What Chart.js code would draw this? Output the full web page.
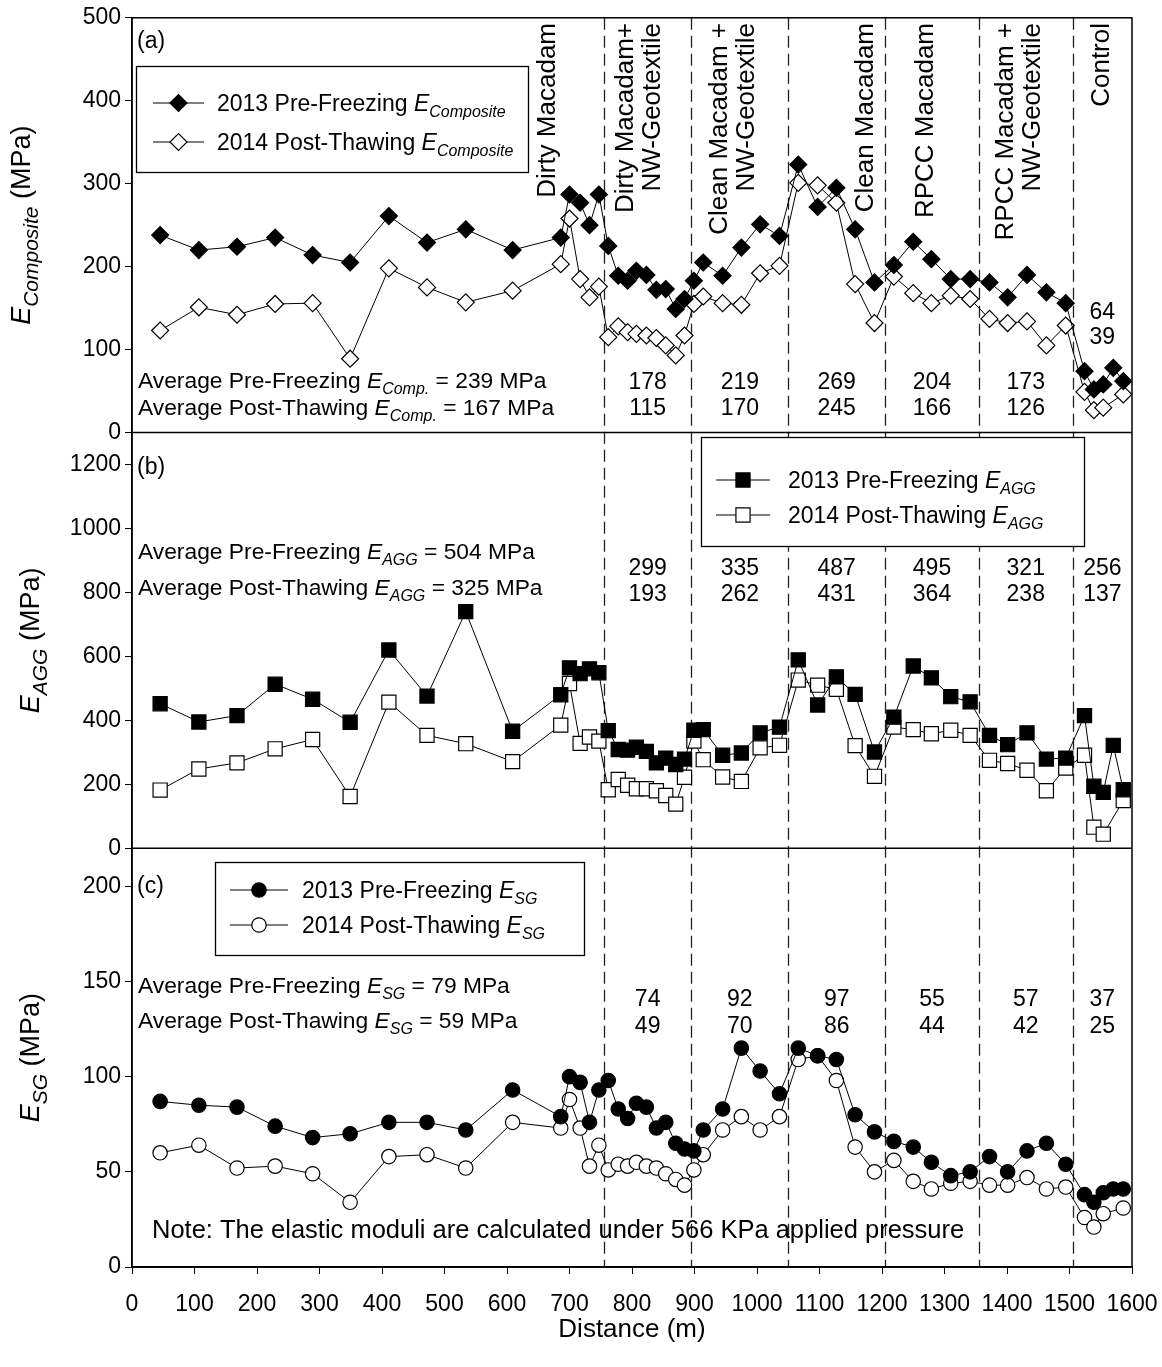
<!DOCTYPE html>
<html>
<head>
<meta charset="utf-8">
<script src="https://cdn.jsdelivr.net/npm/chart.js@4.4.0/dist/chart.umd.min.js"></script>
<style>
  html, body { margin: 0; padding: 0; background: #fff; }
</style>
</head>
<body>
<canvas id="chart" width="1162" height="1367"></canvas>
<script>
const FONT = '"Liberation Sans", Arial, Helvetica, sans-serif';

// station distances (m)
const distance = [45, 107, 168, 229, 289, 349, 411, 472, 534, 609,
  686, 700, 717, 732, 747, 762, 778, 793, 807, 823,
  839, 854, 870, 884, 899, 914, 945, 975, 1005, 1036,
  1066, 1097, 1127, 1157, 1188, 1219, 1250, 1279, 1310, 1341,
  1372, 1401, 1432, 1463, 1494, 1524, 1539, 1554, 1570, 1586];

// (a) composite modulus
const compPre = [238, 220, 224, 235, 214, 205, 261, 229, 245, 220,
  235, 287, 277, 250, 287, 225, 189, 183, 195, 190,
  172, 173, 149, 161, 183, 205, 189, 223, 251, 237,
  323, 272, 295, 245, 181, 202, 230, 209, 185, 185,
  181, 163, 190, 169, 156, 74, 52, 58, 78, 62];
const compPost = [123, 151, 142, 155, 156, 89, 198, 175, 157, 171,
  203, 258, 185, 163, 176, 115, 128, 121, 119, 117,
  114, 105, 93, 117, 155, 164, 156, 154, 192, 201,
  301, 298, 277, 179, 132, 188, 168, 156, 165, 161,
  137, 132, 134, 105, 129, 49, 27, 30, null, 46];

// (b) aggregate modulus
const aggPre = [452, 395, 415, 513, 466, 394, 620, 476, 740, 366,
  480, 564, 546, 561, 549, 368, 309, 307, 316, 303,
  267, 282, 262, 279, 369, 371, 291, 298, 361, 379,
  589, 448, 536, 481, 301, 410, 570, 533, 474, 458,
  353, 324, 361, 279, 282, 415, 194, 175, 322, 183];
const aggPost = [182, 248, 267, 311, 340, 162, 457, 353, 327, 271,
  385, 515, 328, 348, 335, 183, 215, 197, 186, 186,
  180, 165, 138, 222, 335, 277, 223, 209, 314, 322,
  526, 510, 497, 321, 225, 379, 371, 358, 369, 353,
  275, 265, 244, 180, 251, 291, 66, 44, null, 149];

// (c) subgrade modulus
const sgPre = [87, 85, 84, 74, 68, 70, 76, 76, 72, 93,
  79, 100, 97, 76, 93, 98, 83, 78, 86, 84,
  73, 76, 65, 62, 61, 72, 83, 115, 103, 91,
  115, 111, 109, 80, 71, 66, 63, 55, 48, 50,
  58, 50, 61, 65, 54, 38, 34, 39, 41, 41];
const sgPost = [60, 64, 52, 53, 49, 34, 58, 59, 52, 76,
  73, 88, 73, 53, 64, 51, 54, 53, 55, 53,
  52, 49, 46, 43, 51, 59, 72, 79, 72, 79,
  109, 111, 98, 63, 50, 56, 45, 41, 44, 45,
  43, 43, 47, 41, 42, 26, 21, 28, null, 31];

// axis ticks
const distanceTicks = [0, 100, 200, 300, 400, 500, 600, 700, 800, 900, 1000, 1100, 1200, 1300, 1400, 1500, 1600];
const compTicks = [0, 100, 200, 300, 400, 500];
const aggTicks = [0, 200, 400, 600, 800, 1000, 1200];
const sgTicks = [0, 50, 100, 150, 200];

// test section boundaries (m) and section averages
const sectionBounds = [755, 895, 1050, 1205, 1355, 1505];
const compSecPre = [178, 219, 269, 204, 173, 64];
const compSecPost = [115, 170, 245, 166, 126, 39];
const aggSecPre = [299, 335, 487, 495, 321, 256];
const aggSecPost = [193, 262, 431, 364, 238, 137];
const sgSecPre = [74, 92, 97, 55, 57, 37];
const sgSecPost = [49, 70, 86, 44, 42, 25];

const xy = (vals) => vals.map((v, i) => ({ x: distance[i], y: v }));

function series(label, vals, axis, style, radius, fill) {
  return {
    label: label,
    data: xy(vals),
    yAxisID: axis,
    borderColor: '#000',
    borderWidth: 1,
    pointStyle: style,
    pointRadius: radius,
    pointBackgroundColor: fill,
    pointBorderColor: '#000',
    pointBorderWidth: 1.2,
    spanGaps: true,
    tension: 0
  };
}

function yScale(min, max, tickArr, weight) {
  return {
    type: 'linear',
    position: 'left',
    stack: 'panels',
    stackWeight: weight,
    min: min,
    max: max,
    afterBuildTicks: (ax) => { ax.ticks = tickArr.map(v => ({ value: v })); },
    afterFit: (ax) => { ax.width = 132; },
    ticks: { color: '#000', font: { family: FONT, size: 23 }, padding: 4, callback: (v) => String(v) },
    grid: { drawOnChartArea: false, drawTicks: true, tickLength: 7, color: '#000', lineWidth: 1 },
    border: { display: true, color: '#000', width: 1.5 }
  };
}

// text helpers: parts are [text, kind] with kind 0 normal, 1 italic, 2 italic subscript
function partFont(kind, size, subRatio) {
  if (kind === 2) return 'italic ' + Math.round(size * subRatio) + 'px ' + FONT;
  if (kind === 1) return 'italic ' + size + 'px ' + FONT;
  return size + 'px ' + FONT;
}

function drawRich(ctx, parts, x, y, align, size, subRatio) {
  const sr = subRatio || 0.68;
  let w = 0;
  parts.forEach(p => { ctx.font = partFont(p[1], size, sr); w += ctx.measureText(p[0]).width; });
  let cx = align === 'center' ? x - w / 2 : (align === 'right' ? x - w : x);
  ctx.textAlign = 'left';
  ctx.textBaseline = 'alphabetic';
  ctx.fillStyle = '#000';
  parts.forEach(p => {
    ctx.font = partFont(p[1], size, sr);
    ctx.fillText(p[0], cx, y + (p[1] === 2 ? size * 0.28 : 0));
    cx += ctx.measureText(p[0]).width;
  });
}

function drawMarker(ctx, style, x, y, r, fill) {
  ctx.beginPath();
  if (style === 'rectRot') {
    ctx.moveTo(x - r, y); ctx.lineTo(x, y - r); ctx.lineTo(x + r, y); ctx.lineTo(x, y + r); ctx.closePath();
  } else if (style === 'rect') {
    const s = r * Math.SQRT1_2;
    ctx.rect(x - s, y - s, 2 * s, 2 * s);
  } else {
    ctx.arc(x, y, r, 0, Math.PI * 2);
  }
  ctx.fillStyle = fill;
  ctx.fill();
  ctx.lineWidth = 1.2;
  ctx.strokeStyle = '#000';
  ctx.stroke();
}

function drawLegend(ctx, box, entries) {
  ctx.save();
  ctx.fillStyle = '#fff';
  ctx.fillRect(box.x, box.y, box.w, box.h);
  ctx.strokeStyle = '#000';
  ctx.lineWidth = 1.3;
  ctx.strokeRect(box.x + 0.5, box.y + 0.5, box.w, box.h);
  entries.forEach((e, i) => {
    const yy = box.rows[i];
    ctx.beginPath();
    ctx.lineWidth = 1;
    ctx.moveTo(box.line[0], yy);
    ctx.lineTo(box.line[1], yy);
    ctx.stroke();
    drawMarker(ctx, e.style, (box.line[0] + box.line[1]) / 2, yy, e.r, e.fill);
    drawRich(ctx, e.parts, box.text, yy + 8, 'left', 23);
  });
  ctx.restore();
}

const verticalLabels = [
  { lines: ['Dirty Macadam'], x: [548] },
  { lines: ['Dirty Macadam+', 'NW-Geotextile'], x: [626, 653] },
  { lines: ['Clean Macadam +', 'NW-Geotextile'], x: [720, 747] },
  { lines: ['Clean Macadam'], x: [866] },
  { lines: ['RPCC Macadam'], x: [926] },
  { lines: ['RPCC Macadam +', 'NW-Geotextile'], x: [1006, 1033] },
  { lines: ['Control'], x: [1102] }
];

function sectionCenters(xs) {
  return sectionBounds.map((b, i) => {
    const e = i + 1 < sectionBounds.length ? sectionBounds[i + 1] : 1600;
    return xs.getPixelForValue((b + e) / 2);
  });
}

const decor = {
  id: 'decor',
  beforeDatasetsDraw(chart) {
    const { ctx, chartArea, scales } = chart;
    ctx.save();
    ctx.strokeStyle = '#222';
    ctx.lineWidth = 1.3;
    ctx.setLineDash([12, 6]);
    sectionBounds.forEach(m => {
      const x = Math.round(scales.x.getPixelForValue(m)) + 0.5;
      ctx.beginPath();
      ctx.moveTo(x, chartArea.top);
      ctx.lineTo(x, chartArea.bottom);
      ctx.stroke();
    });
    ctx.restore();
  },
  afterDraw(chart) {
    const { ctx, chartArea, scales } = chart;
    ctx.save();

    // frame and panel separators
    ctx.strokeStyle = '#000';
    ctx.lineWidth = 1.5;
    ctx.strokeRect(chartArea.left, chartArea.top, chartArea.right - chartArea.left, chartArea.bottom - chartArea.top);
    ['yA', 'yB', 'yC'].forEach(id => {
      ctx.beginPath();
      ctx.moveTo(chartArea.left, scales[id].bottom);
      ctx.lineTo(chartArea.right, scales[id].bottom);
      ctx.stroke();
    });

    // panel letters
    ctx.fillStyle = '#000';
    ctx.font = '23px ' + FONT;
    ctx.textAlign = 'left';
    ctx.textBaseline = 'alphabetic';
    ctx.fillText('(a)', 137, 48);
    ctx.fillText('(b)', 137, 474);
    ctx.fillText('(c)', 137, 893);

    // vertical section names
    ctx.font = '26px ' + FONT;
    verticalLabels.forEach(l => {
      l.lines.forEach((t, i) => {
        ctx.save();
        ctx.translate(l.x[i], 23);
        ctx.rotate(-Math.PI / 2);
        ctx.textAlign = 'right';
        ctx.textBaseline = 'middle';
        ctx.fillText(t, 0, 0);
        ctx.restore();
      });
    });

    // averages
    const fs = 22.8;
    drawRich(ctx, [['Average Pre-Freezing ', 0], ['E', 1], ['Comp.', 2], [' = 239 MPa', 0]], 138, 388, 'left', fs);
    drawRich(ctx, [['Average Post-Thawing ', 0], ['E', 1], ['Comp.', 2], [' = 167 MPa', 0]], 138, 415, 'left', fs);
    drawRich(ctx, [['Average Pre-Freezing ', 0], ['E', 1], ['AGG', 2], [' = 504 MPa', 0]], 138, 559, 'left', fs);
    drawRich(ctx, [['Average Post-Thawing ', 0], ['E', 1], ['AGG', 2], [' = 325 MPa', 0]], 138, 595, 'left', fs);
    drawRich(ctx, [['Average Pre-Freezing ', 0], ['E', 1], ['SG', 2], [' = 79 MPa', 0]], 138, 993, 'left', fs);
    drawRich(ctx, [['Average Post-Thawing ', 0], ['E', 1], ['SG', 2], [' = 59 MPa', 0]], 138, 1028, 'left', fs);

    // section averages
    const cx = sectionCenters(scales.x);
    ctx.font = '23px ' + FONT;
    ctx.textAlign = 'center';
    cx.forEach((x, i) => {
      const last = i === cx.length - 1;
      ctx.fillText(String(compSecPre[i]), x, last ? 319 : 389);
      ctx.fillText(String(compSecPost[i]), x, last ? 344 : 415);
      ctx.fillText(String(aggSecPre[i]), x, 575);
      ctx.fillText(String(aggSecPost[i]), x, 601);
      ctx.fillText(String(sgSecPre[i]), x, 1006);
      ctx.fillText(String(sgSecPost[i]), x, 1033);
    });

    // note
    ctx.font = '25.5px ' + FONT;
    ctx.textAlign = 'left';
    ctx.fillText('Note: The elastic moduli are calculated under 566 KPa applied pressure', 152, 1238);

    // legends
    drawLegend(ctx, { x: 136, y: 66, w: 392, h: 106, rows: [103, 142], line: [153, 204], text: 217 }, [
      { style: 'rectRot', r: 8.5, fill: '#000', parts: [['2013 Pre-Freezing ', 0], ['E', 1], ['Composite', 2]] },
      { style: 'rectRot', r: 8.5, fill: '#fff', parts: [['2014 Post-Thawing ', 0], ['E', 1], ['Composite', 2]] }
    ]);
    drawLegend(ctx, { x: 701, y: 437, w: 383, h: 109, rows: [480, 515], line: [716, 770], text: 788 }, [
      { style: 'rect', r: 10, fill: '#000', parts: [['2013 Pre-Freezing ', 0], ['E', 1], ['AGG', 2]] },
      { style: 'rect', r: 10, fill: '#fff', parts: [['2014 Post-Thawing ', 0], ['E', 1], ['AGG', 2]] }
    ]);
    drawLegend(ctx, { x: 215, y: 862, w: 369, h: 93, rows: [890, 925], line: [230, 288], text: 302 }, [
      { style: 'circle', r: 7.2, fill: '#000', parts: [['2013 Pre-Freezing ', 0], ['E', 1], ['SG', 2]] },
      { style: 'circle', r: 7.2, fill: '#fff', parts: [['2014 Post-Thawing ', 0], ['E', 1], ['SG', 2]] }
    ]);

    // axis titles
    const yTitles = [
      ['yA', 21, [['E', 1], ['Composite', 2], [' (MPa)', 0]]],
      ['yB', 30, [['E', 1], ['AGG', 2], [' (MPa)', 0]]],
      ['yC', 30, [['E', 1], ['SG', 2], [' (MPa)', 0]]]
    ];
    yTitles.forEach(t => {
      const s = scales[t[0]];
      ctx.save();
      ctx.translate(t[1], (s.top + s.bottom) / 2);
      ctx.rotate(-Math.PI / 2);
      drawRich(ctx, t[2], 0, 9, 'center', 27, 0.76);
      ctx.restore();
    });
    drawRich(ctx, [['Distance (m)', 0]], (chartArea.left + chartArea.right) / 2, 1337, 'center', 26);

    ctx.restore();
  }
};

new Chart(document.getElementById('chart'), {
  type: 'line',
  data: {
    datasets: [
      series('2013 Pre-Freezing E Composite', compPre, 'yA', 'rectRot', 8.5, '#000'),
      series('2014 Post-Thawing E Composite', compPost, 'yA', 'rectRot', 8.5, '#fff'),
      series('2013 Pre-Freezing E AGG', aggPre, 'yB', 'rect', 10, '#000'),
      series('2014 Post-Thawing E AGG', aggPost, 'yB', 'rect', 10, '#fff'),
      series('2013 Pre-Freezing E SG', sgPre, 'yC', 'circle', 7.2, '#000'),
      series('2014 Post-Thawing E SG', sgPost, 'yC', 'circle', 7.2, '#fff')
    ]
  },
  options: {
    responsive: false,
    devicePixelRatio: 1,
    animation: false,
    layout: { padding: { top: 14, right: 30, left: 0, bottom: 0 } },
    plugins: { legend: { display: false }, tooltip: { enabled: false } },
    scales: {
      x: {
        type: 'linear',
        min: 0,
        max: 1600,
        afterBuildTicks: (ax) => { ax.ticks = distanceTicks.map(v => ({ value: v })); },
        afterFit: (ax) => { ax.height = 100; ax.paddingRight = 0; ax.paddingLeft = 0; },
        ticks: { color: '#000', font: { family: FONT, size: 23 }, padding: 17, maxRotation: 0, autoSkip: false, callback: (v) => String(v) },
        grid: { drawOnChartArea: false, drawTicks: true, tickLength: 7, color: '#000' },
        border: { display: true, color: '#000', width: 1.5 }
      },
      yC: yScale(0, 220, sgTicks, 420),
      yB: yScale(0, 1300, aggTicks, 417),
      yA: yScale(0, 500, compTicks, 416)
    }
  },
  plugins: [decor]
});
</script>
</body>
</html>
